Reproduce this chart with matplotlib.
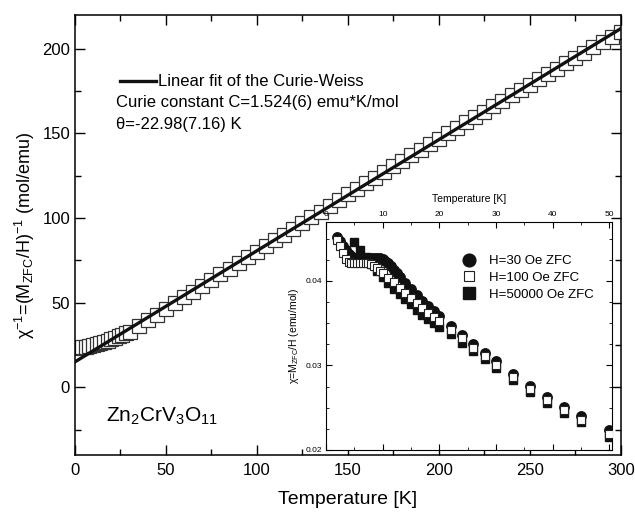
import matplotlib
matplotlib.use('Agg')

import numpy as np
import matplotlib.pyplot as plt
from matplotlib.ticker import MultipleLocator

plt.rcParams['font.family'] = ['Liberation Sans', 'DejaVu Sans']
plt.rcParams['mathtext.fontset'] = 'custom'
plt.rcParams['mathtext.rm'] = 'Liberation Sans'
plt.rcParams['mathtext.it'] = 'Liberation Sans:italic'

# main panel: inverse susceptibility
T_inv = [2, 4, 6, 8, 10, 12, 14, 16, 18, 20, 22, 24, 26, 28,
         30, 35, 40, 45, 50, 55, 60, 65, 70, 75, 80, 85, 90, 95, 100,
         105, 110, 115, 120, 125, 130, 135, 140, 145, 150, 155, 160,
         165, 170, 175, 180, 185, 190, 195, 200, 205, 210, 215, 220,
         225, 230, 235, 240, 245, 250, 255, 260, 265, 270, 275, 280,
         285, 290, 295, 300]
chi_inv = [23.4, 23.6, 23.9, 24.3, 24.8, 25.4, 26.1, 26.9, 27.7, 28.5,
           29.4, 30.3, 31.2, 32.1,
           33.0, 36.3, 39.6, 43.0, 46.4, 49.8, 53.2, 56.6, 60.0, 63.4,
           66.7, 70.1, 73.4, 76.8, 80.1, 83.5, 86.8, 90.2, 93.6, 97.0,
           100.4, 103.8, 107.2, 110.6, 114.0, 117.3, 120.6, 123.9, 127.2,
           130.5, 133.7, 137.0, 140.3, 143.5, 146.8, 150.0, 153.2, 156.5,
           159.7, 162.9, 166.1, 169.3, 172.5, 175.7, 178.9, 182.0, 185.2,
           188.3, 191.5, 194.6, 197.8, 200.9, 204.0, 207.1, 210.2]

# Curie-Weiss fit parameters
C_curie = 1.524
theta = -22.98
T_fit = [0, 300]

# inset: susceptibility at low temperature
T_30 = [2, 2.5, 3, 3.5, 4, 4.5, 5, 5.5, 6, 6.5, 7, 7.5, 8, 8.5, 9, 9.5,
        10, 10.5, 11, 11.5, 12, 12.5, 13, 14, 15, 16, 17, 18, 19, 20,
        22, 24, 26, 28, 30, 33, 36, 39, 42, 45, 50]
chi_30 = [0.0452, 0.0447, 0.0441, 0.0436, 0.0432, 0.0429, 0.0427, 0.0426,
          0.0426, 0.0426, 0.0426, 0.0427, 0.0427, 0.0427, 0.0427, 0.0427,
          0.0426, 0.0424, 0.0421, 0.0417, 0.0413, 0.0409, 0.0404, 0.0397,
          0.0390, 0.0383, 0.0376, 0.0370, 0.0364, 0.0358,
          0.0346, 0.0336, 0.0325, 0.0315, 0.0305, 0.0290, 0.0276, 0.0263,
          0.0251, 0.0240, 0.0223]

T_100 = [2, 2.5, 3, 3.5, 4, 4.5, 5, 5.5, 6, 6.5, 7, 7.5, 8, 8.5, 9, 9.5,
         10, 11, 12, 13, 14, 15, 16, 17, 18, 19, 20,
         22, 24, 26, 28, 30, 33, 36, 39, 42, 45, 50]
chi_100 = [0.0448, 0.0441, 0.0433, 0.0426, 0.0422, 0.0421, 0.0421, 0.0421,
           0.0421, 0.0421, 0.0421, 0.0421, 0.0420, 0.0418, 0.0415, 0.0412,
           0.0409, 0.0403, 0.0398, 0.0392, 0.0386, 0.0380, 0.0374, 0.0368,
           0.0362, 0.0357, 0.0352,
           0.0342, 0.0332, 0.0321, 0.0311, 0.0301, 0.0286, 0.0272, 0.0259,
           0.0247, 0.0236, 0.0219]

T_5e4 = [5, 6, 7, 8, 9, 10, 11, 12, 13, 14, 15, 16, 17, 18, 19, 20,
         22, 24, 26, 28, 30, 33, 36, 39, 42, 45, 50]
chi_5e4 = [0.0446, 0.0437, 0.0428, 0.0420, 0.0412, 0.0404, 0.0397, 0.0390,
           0.0384, 0.0378, 0.0372, 0.0366, 0.0360, 0.0355, 0.0350, 0.0345,
           0.0337, 0.0327, 0.0317, 0.0307, 0.0297, 0.0283, 0.0269, 0.0256,
           0.0244, 0.0233, 0.0215]

fig = plt.figure(figsize=(6.35, 5.16), dpi=100)
ax = fig.add_axes([0.118, 0.118, 0.8595, 0.853])

ax.plot(T_inv, chi_inv, ls='none', marker='s', ms=9.5, mfc='white',
        mec='#333333', mew=0.9, zorder=2)
y_fit = (np.array(T_fit) - theta) / C_curie
ax.plot(T_fit, y_fit, color='#111111', lw=2.4, zorder=3,
        label='Linear fit of the Curie-Weiss')

ax.set_xlim(0, 300)
ax.set_ylim(-40, 220)
ax.xaxis.set_major_locator(MultipleLocator(50))
ax.xaxis.set_minor_locator(MultipleLocator(25))
ax.yaxis.set_major_locator(MultipleLocator(50))
ax.yaxis.set_minor_locator(MultipleLocator(25))
ax.tick_params(which='both', direction='in', top=True, right=True,
               labelsize=12, width=1)
ax.tick_params(axis='x', pad=6)
ax.tick_params(which='major', length=7)
ax.tick_params(which='minor', length=4)
for s in ax.spines.values():
    s.set_linewidth(1.1)
ax.set_xlabel('Temperature [K]', fontsize=14, labelpad=9)
ax.set_ylabel(r'χ$^{-1}$=(M$_{\rm ZFC}$/H)$^{-1}$ (mol/emu)', fontsize=13)

leg = ax.legend(loc='upper left', bbox_to_anchor=(0.07, 0.88), frameon=False,
                fontsize=12, handlelength=2.2, handletextpad=0.1,
                borderaxespad=0)
ax.text(0.075, 0.80, 'Curie constant C=1.524(6) emu*K/mol',
        transform=ax.transAxes, fontsize=12, va='center')
ax.text(0.075, 0.752, 'θ=-22.98(7.16) K',
        transform=ax.transAxes, fontsize=12, va='center')
ax.text(17, -20, r'Zn$_2$CrV$_3$O$_{11}$', fontsize=15)

# inset
axi = fig.add_axes([0.5134, 0.128, 0.4504, 0.4409])
axi.plot(T_30, chi_30, ls='none', marker='o', ms=6.8, mfc='#111111',
         mec='#111111', label='H=30 Oe ZFC', zorder=3)
axi.plot(T_100, chi_100, ls='none', marker='s', ms=5.8, mfc='white',
         mec='#222222', mew=0.8, label='H=100 Oe ZFC', zorder=4)
axi.plot(T_5e4, chi_5e4, ls='none', marker='s', ms=6.2, mfc='#111111',
         mec='#111111', label='H=50000 Oe ZFC', zorder=2)
axi.set_xlim(0, 50.5)
axi.set_ylim(0.02, 0.0469)
axi.xaxis.set_major_locator(MultipleLocator(10))
axi.xaxis.set_minor_locator(MultipleLocator(5))
axi.yaxis.set_major_locator(MultipleLocator(0.01))
axi.yaxis.set_minor_locator(MultipleLocator(0.0025))
axi.tick_params(which='both', direction='in', top=True, right=True,
                bottom=True, labeltop=True, labelbottom=False, labelsize=6,
                pad=3)
axi.tick_params(which='major', length=4)
axi.tick_params(which='minor', length=2.5)
axi.xaxis.set_label_position('top')
axi.set_xlabel('Temperature [K]', fontsize=7.5, labelpad=7)
axi.set_ylabel(r'χ=M$_{\rm ZFC}$/H (emu/mol)', fontsize=7.5, labelpad=3)
axi.legend(loc='upper right', bbox_to_anchor=(0.955, 0.88), frameon=False,
           fontsize=9.5, handletextpad=0.5, labelspacing=0.35,
           markerscale=1.35, borderaxespad=0)

fig.savefig('out.png', dpi=100)
